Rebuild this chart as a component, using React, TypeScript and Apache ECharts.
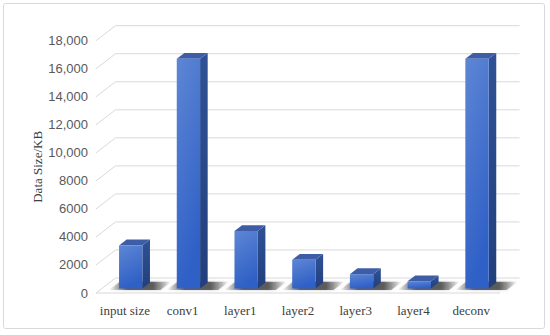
import React, { useEffect, useRef } from "react";
import * as echarts from "echarts";

const categories = ["input size", "conv1", "layer1", "layer2", "layer3", "layer4", "deconv"];
const dataSizeKB = [3072, 16384, 4096, 2048, 1024, 512, 16384];
const yTicks = [0, 2000, 4000, 6000, 8000, 10000, 12000, 14000, 16000, 18000];

const DX = 19.5;
const DY = -15;
const FRONT = 0.3;
const DEPTH = 0.39;

export default function App() {
  const ref = useRef<HTMLDivElement>(null);
  useEffect(() => {
    document.body.style.margin = "0";
    const chart = echarts.init(ref.current!, undefined, { renderer: "svg" });
    chart.setOption({
      animation: false,
      backgroundColor: "#ffffff",
      grid: { left: 96, right: 50, top: 40.7, bottom: 42, containLabel: false },
      graphic: [
        {
          type: "rect",
          shape: { x: 3.5, y: 3.5, width: 541, height: 325, r: 2 },
          style: { fill: "none", stroke: "#d9d9d9", lineWidth: 1 },
          silent: true,
          z: -10,
        },
      ],
      xAxis: {
        type: "category",
        data: categories,
        axisLine: { show: false },
        axisTick: { show: false },
        splitLine: { show: false },
        axisLabel: {
          interval: 0,
          margin: 11,
          fontFamily: "Liberation Serif",
          fontSize: 13,
          color: "#404040",
        },
      },
      yAxis: {
        type: "value",
        min: 0,
        max: 18000,
        interval: 2000,
        name: "Data Size/KB",
        nameLocation: "middle",
        nameGap: 52,
        nameMoveOverlap: false,
        nameTextStyle: { fontFamily: "Liberation Serif", fontSize: 13, color: "#404040" },
        axisLine: { show: false },
        axisTick: { show: false },
        splitLine: { show: false },
        axisLabel: {
          margin: 8,
          fontFamily: "Liberation Sans",
          fontSize: 13,
          color: "#595959",
          formatter: (v: number) => (v >= 10000 ? v.toLocaleString("en-US") : String(v)),
        },
      },
      series: [
        {
          type: "custom",
          name: "grid",
          silent: true,
          z: 1,
          data: yTicks.map((v) => [0, v]),
          renderItem: (params: any, api: any) => {
            const cs = params.coordSys;
            const y = api.coord([0, api.value(1)])[1];
            const x0 = cs.x;
            const x1 = cs.x + cs.width;
            const children: any[] = [
              {
                type: "polyline",
                shape: { points: [[x0, y], [x0 + DX, y + DY], [x1 + DX, y + DY]] },
                style: { stroke: "#d9d9d9", lineWidth: 1, fill: "none" },
              },
            ];
            if (api.value(1) === 0) {
              children.push({
                type: "line",
                shape: { x1: x0, y1: y, x2: x1, y2: y },
                style: { stroke: "#d9d9d9", lineWidth: 1 },
              });
            }
            return { type: "group", children };
          },
        },
        {
          type: "custom",
          name: "Data Size",
          z: 3,
          data: dataSizeKB.map((v, i) => [i, v]),
          renderItem: (params: any, api: any) => {
            const base = api.coord([api.value(0), 0]);
            const top = api.coord([api.value(0), api.value(1)]);
            const band = api.size([1, 0])[0];
            const halfW = band * 0.202;
            const fx = FRONT * DX;
            const fy = FRONT * DY;
            const bx = DEPTH * DX;
            const by = DEPTH * DY;
            const x0 = base[0] - halfW + fx;
            const x1 = base[0] + halfW + fx;
            const yb = base[1] + fy;
            const yt = top[1] + fy;
            const sx0 = base[0] - halfW - 8;
            const sx1 = base[0] + halfW + 20;
            const d0 = 0.2;
            const d1 = 0.75;
            return {
              type: "group",
              children: [
                {
                  type: "polygon",
                  shape: {
                    points: [
                      [sx0 + d0 * DX, base[1] + d0 * DY],
                      [sx1 + d0 * DX, base[1] + d0 * DY],
                      [sx1 + d1 * DX, base[1] + d1 * DY],
                      [sx0 + d1 * DX, base[1] + d1 * DY],
                    ],
                  },
                  style: {
                    fill: new echarts.graphic.LinearGradient(0, 0, 1, 0, [
                      { offset: 0, color: "rgba(40,40,40,0)" },
                      { offset: 0.3, color: "rgba(40,40,40,0.7)" },
                      { offset: 0.7, color: "rgba(40,40,40,0.7)" },
                      { offset: 1, color: "rgba(40,40,40,0)" },
                    ]),
                    shadowBlur: 3,
                    shadowColor: "rgba(0,0,0,0.3)",
                  },
                },
                {
                  type: "polygon",
                  shape: { points: [[x1, yt], [x1 + bx, yt + by], [x1 + bx, yb + by], [x1, yb]] },
                  style: {
                    fill: new echarts.graphic.LinearGradient(0, 0, 0, 1, [
                      { offset: 0, color: "#2f5296" },
                      { offset: 1, color: "#223f7c" },
                    ]),
                  },
                },
                {
                  type: "polygon",
                  shape: { points: [[x0, yt], [x0 + bx, yt + by], [x1 + bx, yt + by], [x1, yt]] },
                  style: { fill: "#3d5ea6" },
                },
                {
                  type: "rect",
                  shape: { x: x0, y: yt, width: x1 - x0, height: yb - yt },
                  style: {
                    fill: new echarts.graphic.LinearGradient(0, 0, 0.3, 1, [
                      { offset: 0, color: "#5e86d4" },
                      { offset: 1, color: "#2f60c6" },
                    ]),
                  },
                },
              ],
            };
          },
        },
      ],
    });
    return () => chart.dispose();
  }, []);
  return <div ref={ref} style={{ width: 550, height: 335 }} />;
}
